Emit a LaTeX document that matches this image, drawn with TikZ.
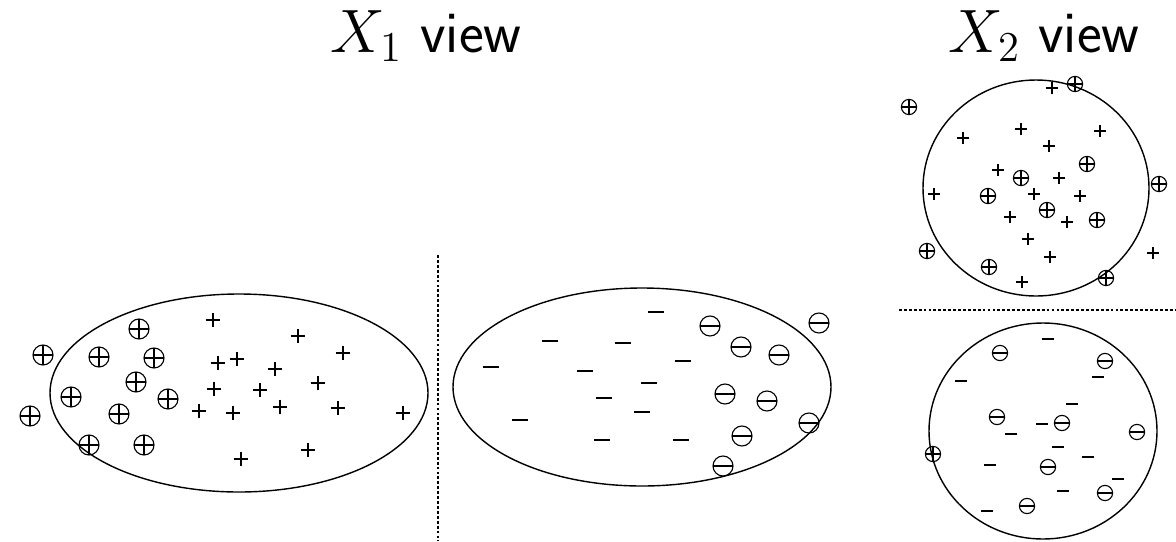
\documentclass[tikz,border=0pt]{standalone}
\usepackage{amsmath,amssymb}
\usepackage{tikz}
\usetikzlibrary{positioning,calc}

\tikzset{
  crossmark/.style={path picture={\draw[line width=0.85pt] (path picture bounding box.west) -- (path picture bounding box.east) (path picture bounding box.north) -- (path picture bounding box.south);}},
  barmark/.style={path picture={\draw[line width=0.9pt] (path picture bounding box.west) -- (path picture bounding box.east);}},
  plusmark/.style={inner sep=0pt, minimum size=#1, crossmark},
  plusmark/.default=0.37cm,
  minusmark/.style={inner sep=0pt, minimum width=#1, minimum height=0.1cm, barmark},
  minusmark/.default=0.4cm,
  pluscirc/.style={circle, draw, line width=0.8pt, inner sep=0pt, minimum size=#1, crossmark},
  pluscirc/.default=0.5cm,
  minuscirc/.style={circle, draw, line width=0.8pt, inner sep=0pt, minimum size=#1, barmark},
  minuscirc/.default=0.5cm,
  region/.style={draw, line width=1pt},
  sepline/.style={line width=1pt, dash pattern=on 2pt off 1.5pt},
  viewlabel/.style={font=\fontsize{20}{24}\selectfont, inner sep=0pt, scale=2.1, transform shape}
}

\begin{document}
\begin{tikzpicture}[x=0.025cm, y=-0.025cm]
\useasboundingbox (0,0) rectangle (1176,541);

% titles
\node[viewlabel] (t1) at (426,36) {$X_1$ \textsf{view}};
\node[viewlabel] (t2) at (1044,36) {$X_2$ \textsf{view}};

% separators
\coordinate (v1) at (438,255);
\coordinate (v2) at (438,541);
\coordinate (h1) at (899,310);
\coordinate (h2) at (1176,310);
\draw[sepline] (v1) -- (v2);
\draw[sepline] (h1) -- (h2);

% X1 view
\draw[region] (239,393) ellipse [x radius=189, y radius=99];
\draw[region] (642,387) ellipse [x radius=189, y radius=99];

\foreach [count=\i] \x/\y in {43/355, 30/416, 71/397, 89/445, 99/357, 139/329, 154/358, 136/382, 119/414, 168/399, 144/445}
  \node[pluscirc] (a\i) at (\x,\y) {};
\foreach [count=\i] \x/\y in {213/320, 298/336, 343/353, 218/363, 237/359, 275/369, 318/383, 214/389, 260/390, 199/411, 233/413, 280/407, 338/408, 403/413, 308/450, 241/459}
  \node[plusmark] (b\i) at (\x,\y) {};
\foreach [count=\i] \x/\y in {656/312, 550/341, 623/343, 491/367, 585/371, 683/361, 649/383, 604/398, 642/412, 520/420, 602/440, 681/440}
  \node[minusmark] (c\i) at (\x,\y) {};
\foreach [count=\i] \x/\y in {710/326, 819/323, 741/347, 779/355, 725/394, 767/401, 809/423, 742/436, 723/466}
  \node[minuscirc] (d\i) at (\x,\y) {};

% X2 view
\draw[region] (1036,188) ellipse [x radius=113, y radius=108];
\draw[region] (1043,431) ellipse [x radius=114, y radius=108];

\foreach [count=\i] \x/\y in {909/107, 1075/84, 1087/164, 1021/178, 988/196, 1159/184, 1047/210, 1097/220, 927/251, 989/267, 1106/278, 933/454}
  \node[pluscirc=0.38cm] (e\i) at (\x,\y) {};
\foreach [count=\i] \x/\y in {1052/88, 963/138, 1021/129, 1100/131, 1049/146, 998/170, 1059/178, 934/194, 1034/194, 1080/196, 1010/217, 1067/222, 1028/239, 1050/257, 1153/253, 1022/282}
  \node[plusmark=0.3cm] (f\i) at (\x,\y) {};
\foreach [count=\i] \x/\y in {1048/339, 961/381, 1098/377, 1072/404, 1042/424, 1011/434, 1058/447, 1088/457, 990/465, 1118/479, 1063/491, 987/511}
  \node[minusmark=0.3cm] (g\i) at (\x,\y) {};
\foreach [count=\i] \x/\y in {1000/353, 1105/361, 997/417, 1062/423, 1137/432, 1048/467, 1105/493, 1027/506}
  \node[minuscirc=0.38cm] (k\i) at (\x,\y) {};
\end{tikzpicture}
\end{document}
